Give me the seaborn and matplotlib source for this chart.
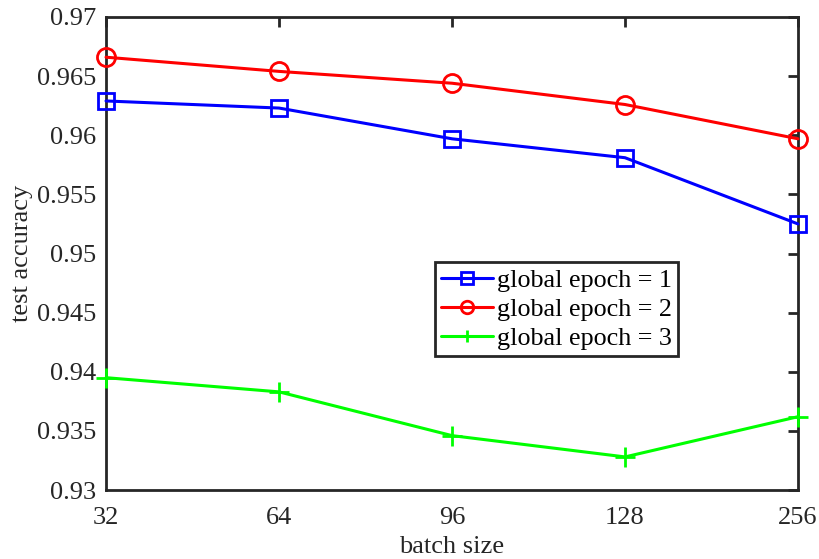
import matplotlib
matplotlib.use("Agg")
import matplotlib.pyplot as plt
import seaborn as sns
import pandas as pd

# batch sizes evaluated (shown as evenly spaced categories)
batch_sizes = ["32", "64", "96", "128", "256"]
acc_epoch1 = [0.9629, 0.9623, 0.9597, 0.9581, 0.9525]
acc_epoch2 = [0.9666, 0.9654, 0.9644, 0.9626, 0.9597]
acc_epoch3 = [0.9395, 0.9383, 0.9346, 0.9328, 0.9362]
series_labels = ["global epoch = 1", "global epoch = 2", "global epoch = 3"]
y_ticks = [0.93, 0.935, 0.94, 0.945, 0.95, 0.955, 0.96, 0.965, 0.97]
y_tick_labels = ["0.93", "0.935", "0.94", "0.945", "0.95", "0.955", "0.96", "0.965", "0.97"]

sns.set_theme(style="white")
plt.rcParams["font.family"] = ["Liberation Serif", "DejaVu Serif"]

fig = plt.figure(figsize=(8.2, 5.59), dpi=100)
ax = fig.add_axes([0.1293, 0.1234, 0.8439, 0.8462])

styles = [
    ("#0000ff", "s", 11),
    ("#ff0000", "o", 13),
    ("#00ff00", "+", 14),
]
for vals, label, (color, marker, ms) in zip([acc_epoch1, acc_epoch2, acc_epoch3], series_labels, styles):
    df = pd.DataFrame({"pos": range(len(batch_sizes)), "acc": vals})
    sns.lineplot(
        data=df, x="pos", y="acc", ax=ax, color=color, label=label,
        marker=marker, markersize=ms, markerfacecolor="none",
        markeredgecolor=color, markeredgewidth=2.0, linewidth=2.2,
        clip_on=False, zorder=3,
    )

ax.set_xlim(0, len(batch_sizes) - 1)
ax.set_ylim(0.93, 0.97)
ax.set_xticks(range(len(batch_sizes)))
ax.set_xticklabels(batch_sizes)
ax.set_yticks(y_ticks)
ax.set_yticklabels(y_tick_labels)

spine_color = "#262626"
for s in ax.spines.values():
    s.set_visible(True)
    s.set_color(spine_color)
    s.set_linewidth(2.0)
ax.tick_params(axis="both", which="both", direction="in", length=7, width=2.0,
               colors=spine_color, labelsize=19, top=True, right=True,
               labelcolor="#262626")
ax.tick_params(axis="x", pad=12)
ax.tick_params(axis="y", pad=7)

ax.set_xlabel("batch size", fontsize=19, color="#262626", labelpad=5)
ax.set_ylabel("test accuracy", fontsize=19, color="#262626", labelpad=3)

leg = ax.legend(loc="upper left", bbox_to_anchor=(0.475, 0.482), fontsize=18.8,
                frameon=True, fancybox=False, shadow=False, handlelength=2.0,
                handletextpad=0.12, labelspacing=0.22, borderpad=0.25,
                borderaxespad=0.0)
leg.get_frame().set_edgecolor("#262626")
leg.get_frame().set_linewidth(2.0)
leg.get_frame().set_alpha(1.0)
for h in leg.legend_handles:
    h.set_markersize(9)
for t in leg.get_texts():
    t.set_color("black")

fig.savefig("out.png", dpi=100)
